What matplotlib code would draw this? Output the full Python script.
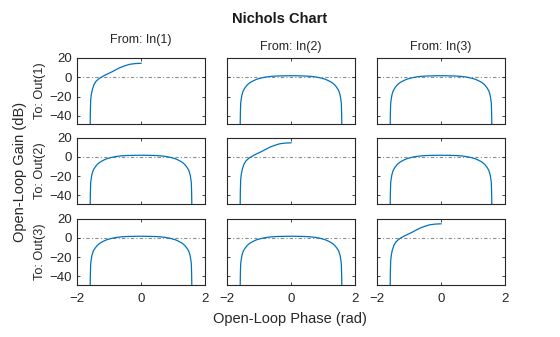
import matplotlib
matplotlib.use("Agg")
import matplotlib.pyplot as plt

plt.rcParams['font.family'] = ['Liberation Sans', 'DejaVu Sans']

# phase (rad) / gain (dB) samples of the diagonal responses
diag_phase = [-1.60, -1.59, -1.58, -1.56, -1.53, -1.48, -1.42, -1.34, -1.26, -1.18,
              -1.05, -0.92, -0.79, -0.66, -0.50, -0.35, -0.18, 0.0]
diag_gain = [-60.0, -35.0, -24.0, -18.0, -13.0, -8.0, -4.5, -2.0, -0.2, 1.3,
             3.5, 5.5, 7.8, 10.0, 12.0, 13.5, 14.2, 14.5]

# phase (rad) / gain (dB) samples of the off-diagonal responses
off_phase = [-1.60, -1.59, -1.58, -1.56, -1.54, -1.50, -1.44, -1.37, -1.29, -1.18,
             -1.08, -0.92, -0.76, -0.60, -0.45, -0.22, 0.0,
             0.22, 0.45, 0.60, 0.76, 0.92, 1.08, 1.18, 1.29, 1.37, 1.44, 1.50,
             1.54, 1.56, 1.58, 1.59, 1.60]
off_gain = [-60.0, -38.0, -27.0, -22.0, -18.3, -14.0, -10.7, -7.8, -5.6, -3.6,
            -2.1, -0.6, 0.4, 1.0, 1.3, 1.5, 1.6,
            1.5, 1.3, 1.0, 0.4, -0.6, -2.1, -3.6, -5.6, -7.8, -10.7, -14.0,
            -18.3, -22.0, -27.0, -38.0, -60.0]

inputs = ['In(1)', 'In(2)', 'In(3)']
outputs = ['Out(1)', 'Out(2)', 'Out(3)']
x_ticks = [-2, 0, 2]
y_ticks = [-40, -20, 0, 20]

W, H = 560, 337
fig = plt.figure(figsize=(W / 100, H / 100), dpi=100)

col_left = [77.3, 227.3, 377.3]
col_w = 127.4
row_top = [58.0, 137.5, 218.5]
row_h = 66.0

blue = '#0072BD'
txt = '#262626'
for r in range(3):
    for c in range(3):
        ax = fig.add_axes([col_left[c] / W, 1 - (row_top[r] + row_h) / H, col_w / W, row_h / H])
        if r == c:
            ax.plot(diag_phase, diag_gain, color=blue, lw=0.9)
        else:
            ax.plot(off_phase, off_gain, color=blue, lw=0.9)
        ax.axhline(0, color='#8c8c8c', lw=0.8, ls=(0, (3, 2, 1, 2)), zorder=0)
        ax.set_xlim(-2, 2)
        ax.set_ylim(-48.5, 20)
        ax.set_xticks(x_ticks)
        ax.set_yticks(y_ticks)
        ax.tick_params(direction='in', length=2.5, width=0.6, top=True, right=True,
                       labelsize=9.5, colors=txt)
        ax.tick_params(axis='x', pad=6)
        ax.tick_params(axis='y', pad=4)
        for s in ax.spines.values():
            s.set_linewidth(0.8)
            s.set_color(txt)
        if c != 0:
            ax.set_yticklabels([])
        if r != 2:
            ax.set_xticklabels([])

# row labels
for r in range(3):
    fig.text(40 / W, 1 - (row_top[r] + row_h / 2) / H, 'To: ' + outputs[r], ha='center',
             va='center', rotation=90, fontsize=9.2, color=txt)

# column headers
fig.text(141 / W, 1 - 40 / H, 'From: ' + inputs[0], ha='center', va='center', fontsize=9, color=txt)
fig.text(291 / W, 1 - 47 / H, 'From: ' + inputs[1], ha='center', va='center', fontsize=9, color=txt)
fig.text(441 / W, 1 - 47 / H, 'From: ' + inputs[2], ha='center', va='center', fontsize=9, color=txt)

fig.text(280 / W, 1 - 19 / H, 'Nichols Chart', ha='center', va='center', fontsize=10.5,
         fontweight='bold', color='#1a1a1a')
fig.text(290 / W, 1 - 319 / H, 'Open-Loop Phase (rad)', ha='center', va='center', fontsize=10.5,
         color=txt)
fig.text(20 / W, 1 - 172 / H, 'Open-Loop Gain (dB)', ha='center', va='center', fontsize=10.5,
         rotation=90, color=txt)

fig.savefig('out.png', dpi=100)
